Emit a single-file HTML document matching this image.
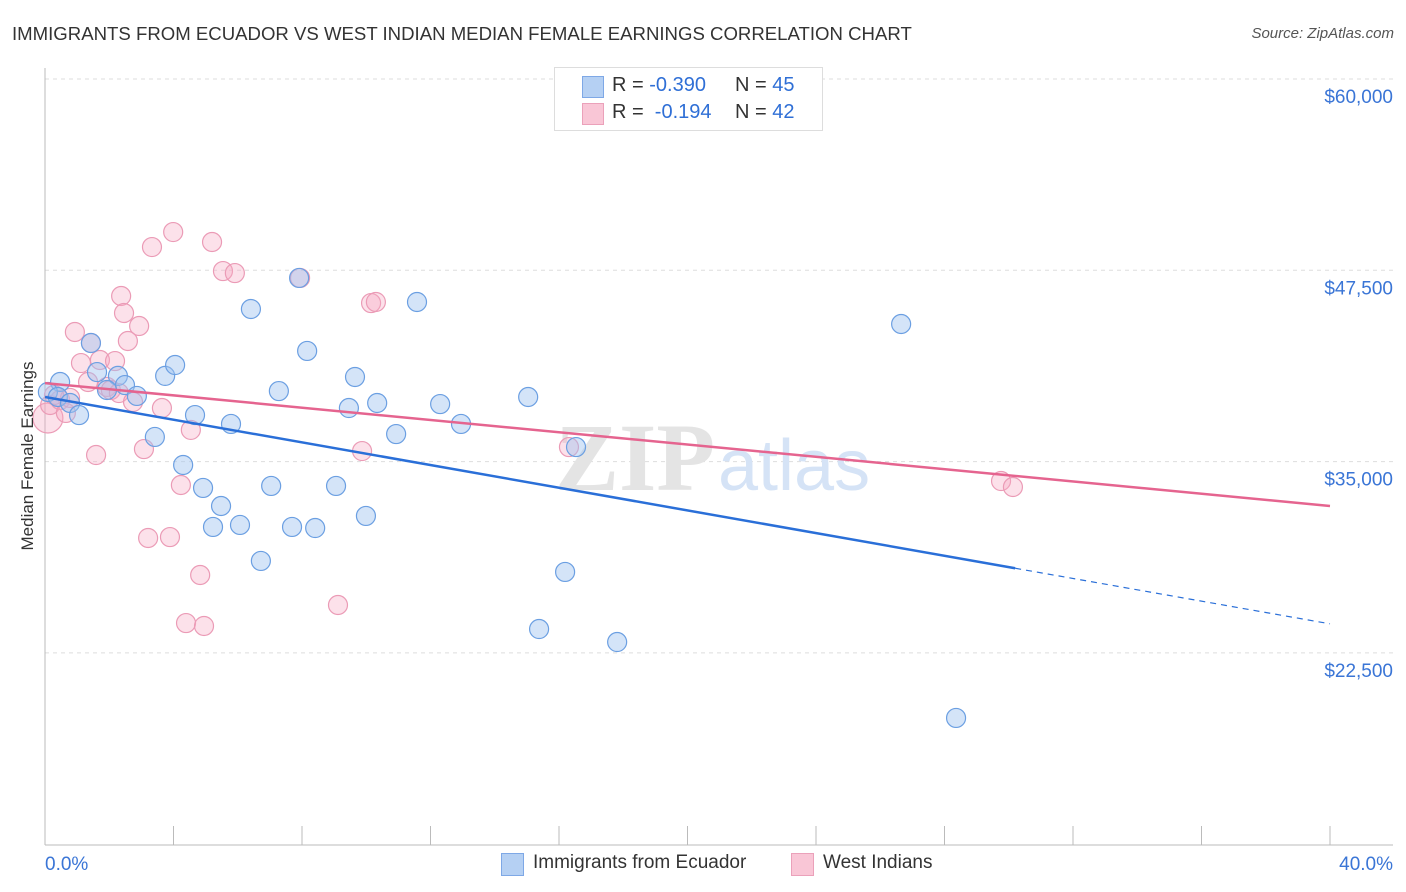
<!DOCTYPE html>
<html><head><meta charset="utf-8"><style>
body{margin:0;background:#fff;font-family:"Liberation Sans",sans-serif;}
#wrap{position:relative;width:1406px;height:892px;overflow:hidden;}
.t{position:absolute;white-space:nowrap;}
</style></head><body>
<div id="wrap">
<div class="t" style="left:12px;top:23px;font-size:18.6px;color:#333;">IMMIGRANTS FROM ECUADOR VS WEST INDIAN MEDIAN FEMALE EARNINGS CORRELATION CHART</div>
<div class="t" style="right:12px;top:25px;font-size:15px;color:#555;font-style:italic;">Source: ZipAtlas.com</div>
<svg id="plot" width="1406" height="892" style="position:absolute;left:0;top:0"></svg>
<div class="t" style="left:28px;top:456px;font-size:17px;color:#333;transform:translate(-50%,-50%) rotate(-90deg);">Median Female Earnings</div>
<div style="position:absolute;left:554px;top:67px;width:267px;height:62px;border:1px solid #ddd;background:#fff;font-size:20px;color:#333;">
 <div style="position:absolute;left:27px;top:8px;width:20px;height:20px;background:#b5d0f3;border:1px solid #7ea8e6;"></div>
 <div class="t" style="left:57px;top:6px;">R = <span style="color:#2f6fd6">-0.390</span></div>
 <div class="t" style="left:180px;top:6px;">N = <span style="color:#2f6fd6">45</span></div>
 <div style="position:absolute;left:27px;top:35px;width:20px;height:20px;background:#f9c6d6;border:1px solid #eba1ba;"></div>
 <div class="t" style="left:57px;top:33px;">R = &nbsp;<span style="color:#2f6fd6">-0.194</span></div>
 <div class="t" style="left:180px;top:33px;">N = <span style="color:#2f6fd6">42</span></div>
</div>
<div style="position:absolute;left:501px;top:853px;width:21px;height:21px;background:#b5d0f3;border:1px solid #7ea8e6;"></div>
<div class="t" style="left:533px;top:852px;font-size:19px;color:#333;">Immigrants from Ecuador</div>
<div style="position:absolute;left:791px;top:853px;width:21px;height:21px;background:#f9c6d6;border:1px solid #eba1ba;"></div>
<div class="t" style="left:823px;top:852px;font-size:19px;color:#333;">West Indians</div>
</div>
<script>
const yTicks=[60000,47500,35000,22500];
const yTickLabels=["$60,000","$47,500","$35,000","$22,500"];
const xTickLabels=["0.0%","40.0%"];
const blueX=[0.47,0.09,0.40,0.78,1.06,1.62,1.43,2.27,2.49,1.93,2.86,3.42,3.74,4.05,4.30,4.67,4.92,5.79,5.48,5.23,6.07,6.41,6.72,7.28,7.04,7.69,7.91,8.16,8.41,9.06,9.46,9.65,9.99,10.34,10.93,11.58,12.30,12.95,15.04,15.38,16.19,16.53,17.81,26.65,28.36];
const blueY=[40200,39550,39220,38830,38040,40850,42750,40600,40000,39680,39290,36610,40600,41310,34780,38040,33280,37460,32100,30730,30860,44970,28510,39610,33410,30730,47000,42230,30660,33410,38500,40530,31450,38830,36800,45430,38760,37460,39220,24060,27790,35950,23210,43990,18250];
const pinkX=[0.09,0.16,0.47,0.65,0.78,0.28,0.93,1.12,1.34,1.43,1.59,1.71,1.93,2.18,2.05,2.30,2.37,2.46,2.58,2.74,2.93,3.08,3.21,3.33,3.64,3.89,3.99,4.23,4.39,4.54,4.83,4.95,5.20,5.54,5.91,7.94,9.12,9.87,10.15,10.30,16.31,29.76,30.13];
const pinkY=[37850,38700,39030,38180,39160,39350,43470,41440,40200,42750,35430,41640,39880,41570,39680,39480,45820,44710,42880,38900,43860,35820,30010,49020,38500,30070,50000,33470,24450,37070,27590,24260,49350,47450,47320,47000,25630,35690,45360,45430,35950,33730,33340];
const blueTrend=[39220,-0.3705];
const blueSolidEnd=30.2;
const pinkTrend=[40130,-0.2008];
const NS="http://www.w3.org/2000/svg";
const svg=document.getElementById('plot');
const X=v=>45+v*(1285/40);
const Y=v=>79+(60000-v)*191.3/12500;
function mk(t,a){const e=document.createElementNS(NS,t);for(const k in a)e.setAttribute(k,a[k]);svg.appendChild(e);return e;}
yTicks.forEach((v,i)=>{
 const g=mk('line',{x1:45,x2:1393,y1:Y(v),y2:Y(v),stroke:'#ddd','stroke-dasharray':'4,4'});
 
 
 const t=mk('text',{x:1393,y:Y(v)+24,'text-anchor':'end','font-size':19,fill:'#3a75d6','font-family':'Liberation Sans, sans-serif'});
 t.textContent=yTickLabels[i];
 
 
});
const ax=mk('line',{x1:45,x2:45,y1:68,y2:845,stroke:'#bbb'});


const bx=mk('line',{x1:45,x2:1393,y1:845,y2:845,stroke:'#bbb'});


for(let i=0;i<=10;i++){
 const tk=mk('line',{x1:X(i*4),x2:X(i*4),y1:826,y2:845,stroke:'#bbb'});
 
 
}
[[0,'start',45],[40,'end',1393]].forEach((d,i)=>{
 const t=mk('text',{x:d[2],y:870,'text-anchor':d[1],'font-size':19,fill:'#3a75d6','font-family':'Liberation Sans, sans-serif'});
 t.textContent=xTickLabels[i];
 
 
});
const wm=mk('text',{x:555,y:490,'font-size':96,fill:'#e4e4e4','font-family':'Liberation Serif, serif','font-weight':'bold'});
wm.textContent='ZIP';


const wm2=mk('text',{x:718,y:490,'font-size':72,fill:'#d5e3f6','font-family':'Liberation Sans, sans-serif'});
wm2.textContent='atlas';


function pts(xs,ys,fill,stroke,name){
 xs.forEach((x,i)=>{
  const r=(i===0&&name==='pink-point')?15:9.5;
  const c=mk('circle',{cx:X(x),cy:Y(ys[i]),r:r,fill:fill,stroke:stroke,'stroke-width':1.2});
  
  
 });
}
pts(pinkX,pinkY,'rgba(245,170,195,0.35)','#eb9bb6','pink-point');
pts(blueX,blueY,'rgba(160,196,240,0.45)','#6b9fe2','blue-point');
const bt=v=>blueTrend[0]+blueTrend[1]*v*1000;
const pt=v=>pinkTrend[0]+pinkTrend[1]*v*1000;
const l1=mk('line',{x1:X(0),y1:Y(bt(0)),x2:X(blueSolidEnd),y2:Y(bt(blueSolidEnd)),stroke:'#2a6fd8','stroke-width':2.5});


const l2=mk('line',{x1:X(blueSolidEnd),y1:Y(bt(blueSolidEnd)),x2:X(40),y2:Y(bt(40)),stroke:'#2a6fd8','stroke-width':1.2,'stroke-dasharray':'6,5'});


const l3=mk('line',{x1:X(0),y1:Y(pt(0)),x2:X(40),y2:Y(pt(40)),stroke:'#e5648f','stroke-width':2.5});


</script>
</body></html>
